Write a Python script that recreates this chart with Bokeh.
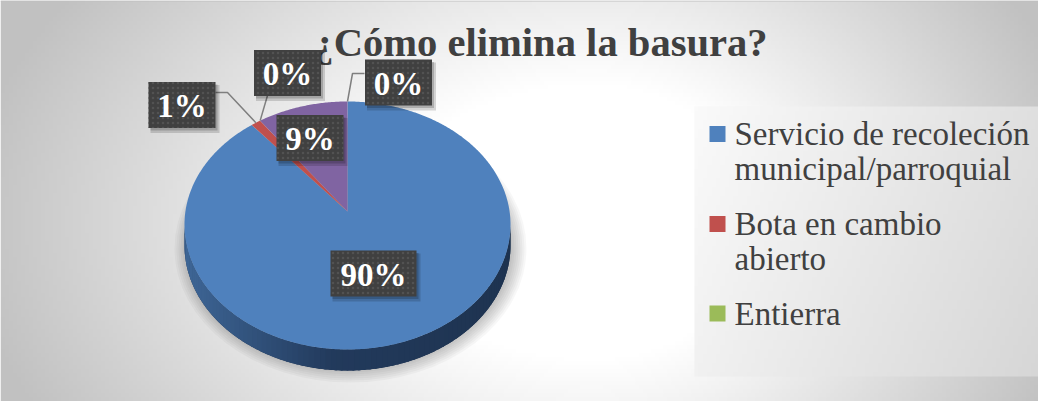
import numpy as np
from bokeh.plotting import figure
from bokeh.models import Range1d
from bokeh.core.properties import value
from bokeh.embed import file_html
from bokeh.resources import INLINE

# ---------------- data ----------------
title_text = "¿Cómo elimina la basura?"
categories = ["Servicio de recoleción municipal/parroquial", "Bota en cambio abierto",
              "Entierra", "Categoría 4", "Categoría 5"]
values = [90, 1, 0, 9, 0]
legend_lines = [["Servicio de recoleción", "municipal/parroquial"],
                ["Bota en cambio", "abierto"],
                ["Entierra"]]
colors = ["#4f81bd", "#c0504d", "#9bbb59", "#8064a2", "#4bacc6"]

# ---------------- layout / style ----------------
W, H = 1038, 401
X0, Y0 = 8, 8
CX, CY = 355.0, 232.0
RX, RY_TOP, RY_BOT = 163.0, 123.0, 125.0
APX, APY = 355.0, 219.0
DEPTH = 21.0
SERIF = value("Liberation Serif")
TXT = "#404040"

p = figure(width=W, height=H, x_range=Range1d(X0, X0 + W), y_range=Range1d(Y0 + H, Y0),
           output_backend="svg", toolbar_location=None, min_border=0,
           x_axis_location=None, y_axis_location=None)
p.grid.visible = False
p.outline_line_color = None
p.background_fill_color = "white"
p.border_fill_color = "white"

# background gradient
gx = np.linspace(X0, X0 + W, 260)
gy = np.linspace(Y0, Y0 + H, 100)
GX, GY = np.meshgrid(gx, gy)
bcx, bcy = 600.0, 230.0
sx = np.where(GX < bcx, 600.0, 480.0)
t = np.sqrt(((GX - bcx) / sx) ** 2 + ((GY - bcy) / 400.0) ** 2)
g = 255 - 62 * np.clip((t - 0.35) / 0.7, 0, 1)
g = g.astype(np.uint8)
img = np.empty(g.shape, dtype=np.uint32)
v = img.view(dtype=np.uint8).reshape(g.shape + (4,))
v[..., 0] = g; v[..., 1] = g; v[..., 2] = g; v[..., 3] = 255
p.image_rgba(image=[img], x=X0, y=Y0, dw=W, dh=H)
p.line(x=[X0, X0 + W], y=[Y0 + 0.5, Y0 + 0.5], line_color="#bfbfbf", line_width=1)

def ell(theta_deg):
    th = np.radians(theta_deg)
    ry = np.where(np.cos(th) > 0, RY_TOP, RY_BOT)
    return CX + RX * np.sin(th), CY - ry * np.cos(th)

# pie shadow
for i in range(8):
    p.ellipse(x=358, y=256, width=2 * (176 - 2 * i), height=2 * (134 - 2 * i),
              fill_color="black", fill_alpha=0.03, line_color=None)

# side of pie (only the front is visible, it belongs to the first slice)
def side_color(x):
    tt = np.clip((x - (CX - RX)) / (2 * RX), 0, 1)
    c0 = np.array([0x3e, 0x66, 0x96]); c1 = np.array([0x22, 0x3a, 0x5c]); c2 = np.array([0x1e, 0x33, 0x50])
    if tt < 0.45:
        c = c0 + (c1 - c0) * (tt / 0.45)
    else:
        c = c1 + (c2 - c1) * ((tt - 0.45) / 0.55)
    return "#%02x%02x%02x" % tuple(int(round(q)) for q in c)

th_all = np.linspace(90, 270, 200)
ex, ey = ell(th_all)
p.patch(x=np.concatenate([ex, ex[::-1]]), y=np.concatenate([ey, ey[::-1] + DEPTH]),
        fill_color="#1e3350", line_color=None)
N = 90
edges = np.linspace(90, 270, N + 1)
sxs, sys_, scs = [], [], []
for i in range(N):
    a = np.linspace(edges[i] - 0.3, edges[i + 1] + 0.3, 5)
    x, y = ell(a)
    sxs.append(np.concatenate([x, x[::-1]]))
    sys_.append(np.concatenate([y, y[::-1] + DEPTH]))
    scs.append(side_color(x.mean()))
p.patches(xs=sxs, ys=sys_, fill_color=scs, line_color=None)

# top face wedges
total = float(sum(values))
cum = np.concatenate([[0], np.cumsum(values)]) / total * 360.0
for i, val in enumerate(values):
    if val <= 0:
        continue
    a = np.linspace(cum[i], cum[i + 1], max(3, int((cum[i + 1] - cum[i]) * 2)))
    x, y = ell(a)
    p.patch(x=np.concatenate([[APX], x]), y=np.concatenate([[APY], y]),
            fill_color=colors[i], line_color=None)

# title
p.text(x=[548], y=[50], text=[title_text], text_font=SERIF, text_font_style="bold",
       text_font_size="40.6px", text_color=TXT, text_align="center", text_baseline="middle")

# leader lines (end on the slice's rim, computed from data)
mids = (cum[:-1] + cum[1:]) / 2
leader_start = {1: [(223, 100), (235, 100)], 2: [(275, 103)], 4: [(372, 81), (360, 81)]}
for i, pts in leader_start.items():
    exx, eyy = ell(mids[i])
    xs = [q[0] for q in pts] + [float(exx)]
    ys = [q[1] for q in pts] + [float(eyy)]
    p.line(x=xs, y=ys, line_color="#7f7f7f", line_width=1.5)

# data labels
label_pos = [(381, 281), (189.5, 112.5), (295, 80.5), (317.5, 145.5), (406, 90)]
pct = [f"{round(v_ / total * 100)}%" for v_ in values]
bw = [86 if len(s) > 2 else 67 for s in pct]
lx = [q[0] for q in label_pos]; ly = [q[1] for q in label_pos]
p.rect(x=[q + 3 for q in lx], y=[q + 4 for q in ly], width=[b + 2 for b in bw], height=48,
       fill_color="black", fill_alpha=0.15, line_color=None)
p.rect(x=[q + 2 for q in lx], y=[q + 2.5 for q in ly], width=bw, height=46,
       fill_color="black", fill_alpha=0.18, line_color=None)
p.rect(x=lx, y=ly, width=bw, height=46, fill_color="#404040", line_color=None,
       hatch_pattern="dot", hatch_color="#535353", hatch_alpha=0.9, hatch_scale=5, hatch_weight=1)
p.text(x=lx, y=[q + 1 for q in ly], text=pct, text_font=SERIF, text_font_style="bold",
       text_font_size="33px", text_color="white", text_align="center", text_baseline="middle")

# legend box
lgx = np.linspace(702, 1052, 80)
lgy = np.linspace(114, 384, 60)
LX, LY = np.meshgrid(lgx, lgy)
lg = (250 - 36 * (0.75 * (LX - 702) / 350 + 0.25 * (LY - 114) / 270)).astype(np.uint8)
limg = np.empty(lg.shape, dtype=np.uint32)
lv = limg.view(dtype=np.uint8).reshape(lg.shape + (4,))
lv[..., 0] = lg; lv[..., 1] = lg; lv[..., 2] = lg; lv[..., 3] = 255
p.image_rgba(image=[limg], x=702, y=114, dw=350, dh=270)

entry_y = [141.5, 231.5, 321]
LINE_GAP = 35
p.rect(x=[725] * 3, y=entry_y, width=16, height=16, fill_color=colors[:3], line_color=None)
for lines, ey0 in zip(legend_lines, entry_y):
    p.text(x=[742] * len(lines), y=[ey0 + k * LINE_GAP for k in range(len(lines))], text=lines,
           text_font=SERIF, text_font_size="33px", text_color=TXT,
           text_align="left", text_baseline="middle")

open("out.html", "w").write(file_html(p, INLINE))
